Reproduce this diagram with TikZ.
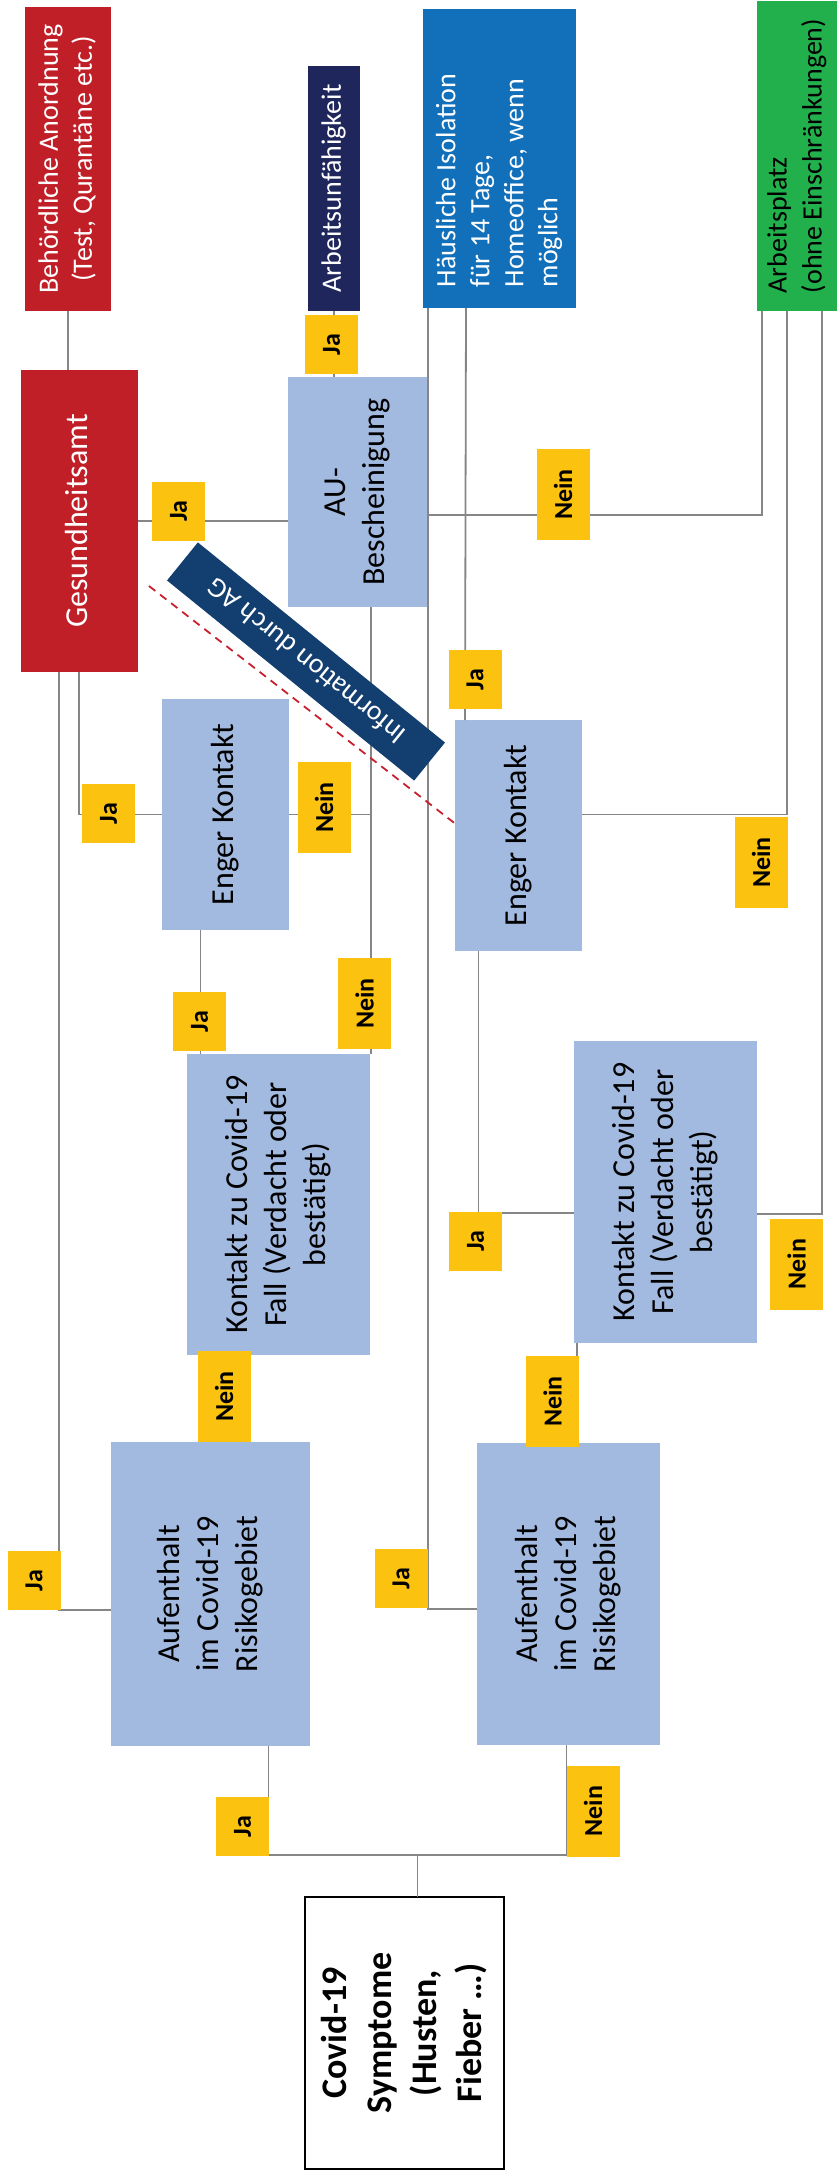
\documentclass[tikz,border=0pt]{standalone}
\usepackage{fontspec}
\setmainfont{Carlito}
\usepackage{graphicx}
\usetikzlibrary{calc}
\definecolor{cRed}{HTML}{C11F27}
\definecolor{cNavy}{HTML}{1F265C}
\definecolor{cBlue}{HTML}{1270BA}
\definecolor{cGreen}{HTML}{21B04B}
\definecolor{cLight}{HTML}{A2B9E0}
\definecolor{cYellow}{HTML}{FCC210}
\definecolor{cBanner}{HTML}{133F70}
\definecolor{cLine}{HTML}{868686}
\definecolor{cDash}{HTML}{C8202F}
\newcommand{\vtext}[2][c]{\rotatebox{90}{\begin{tabular}{@{}#1@{}}#2\end{tabular}}}
\begin{document}
\begin{tikzpicture}[x=1pt,y=-1pt,
  shapebox/.style={rectangle, inner sep=0pt, outer sep=0pt, draw=none},
  lbox/.style={shapebox, fill=cLight, text=black, font=\fontsize{32}{39}\selectfont},
  dbox/.style={shapebox, text=white, font=\fontsize{28}{34}\selectfont},
  yesno/.style={shapebox, fill=cYellow, text=black, minimum width=53pt, font=\bfseries\fontsize{26}{30}\selectfont},
  ja/.style={yesno, minimum height=59pt},
  nein/.style={yesno, minimum height=91pt},
  conn/.style={draw=cLine, line width=1.8pt},
]
\useasboundingbox (0,0) rectangle (837,2179);
% outcome boxes
\node[dbox, fill=cRed, minimum width=86pt, minimum height=304pt] (behoerd) at (68,159)
  {\vtext{Behördliche Anordnung\\(Test, Qurantäne etc.)}};
\node[dbox, fill=cNavy, minimum width=52pt, minimum height=245pt] (arbu) at (334,188.5)
  {\vtext{Arbeitsunfähigkeit}};
\node[dbox, fill=cBlue, minimum width=153pt, minimum height=299pt] (haeusl) at (499.5,158.5)
  {\rotatebox{90}{\begin{tabular}{@{}l@{}}Häusliche Isolation\\für 14 Tage,\\Homeoffice, wenn\\möglich\end{tabular}\hspace{44pt}}};
\node[shapebox, fill=cGreen, text=black, font=\fontsize{28}{35}\selectfont, minimum width=80pt, minimum height=310pt] (arbpl) at (797,156)
  {\vtext[l]{Arbeitsplatz\\(ohne Einschränkungen)}};
\node[dbox, fill=cRed, font=\fontsize{32}{39}\selectfont, minimum width=117pt, minimum height=302pt] (gesund) at (79.5,521)
  {\vtext{Gesundheitsamt}};
% decision boxes
\node[lbox, minimum width=139pt, minimum height=230pt] (aub) at (357.5,492) {\vtext{AU-\\Bescheinigung}};
\node[lbox, minimum width=127pt, minimum height=231pt] (ek1) at (225.5,814.5) {\vtext{Enger Kontakt}};
\node[lbox, minimum width=127pt, minimum height=231pt] (ek2) at (518.5,835.5) {\vtext{Enger Kontakt}};
\node[lbox, minimum width=183pt, minimum height=301pt] (k1) at (278.5,1204.5) {\vtext{Kontakt zu Covid-19\\Fall (Verdacht oder\\bestätigt)}};
\node[lbox, minimum width=183pt, minimum height=302pt] (k2) at (665.5,1192) {\vtext{Kontakt zu Covid-19\\Fall (Verdacht oder\\bestätigt)}};
\node[lbox, minimum width=199pt, minimum height=304pt] (auf1) at (210.5,1594) {\vtext{Aufenthalt\\im Covid-19\\Risikogebiet}};
\node[lbox, minimum width=183pt, minimum height=302pt] (auf2) at (568.5,1594) {\vtext{Aufenthalt\\im Covid-19\\Risikogebiet}};
\node[shapebox, draw=black, line width=2pt, fill=white, font=\bfseries\fontsize{36}{45}\selectfont, minimum width=199pt, minimum height=272pt] (sympt) at (404.5,2033)
  {\vtext{Covid-19\\Symptome\\(Husten,\\Fieber …)}};
% helper coordinates
\coordinate (j1) at ($(k1.north east)+(1,0)$);
\coordinate (t1) at ($(ek1.south)+(-25,0)$);
\coordinate (t2) at ($(k1.south)+(-30,0)$);
\coordinate (t3) at ($(auf2.north)+(8.5,0)$);
\coordinate (symtop) at ($(sympt.north)+(13,0)$);
\coordinate (bus) at ($(sympt.north)+(13,-42)$);
% connectors
\draw[conn] (behoerd.south) -- (behoerd.south |- gesund.north);
\draw[conn] (arbu.south) -- (arbu.south |- aub.north);
\draw[conn] (gesund.east) -- (gesund.east -| aub.west);
\draw[conn] ($(aub.east)+(0,23)$) -| ($(arbpl.south west)+(5,0)$);
\draw[conn] ($(haeusl.south west)+(5,0)$) |- ($(auf2.west)+(0,15)$);
\draw[conn] ($(haeusl.south west)+(43,0)$) -- ($(ek2.north west)+(10,0)$);
\draw[conn] ($(gesund.south west)+(38,0)$) |- ($(auf1.west)+(0,16)$);
\draw[conn] ($(gesund.south west)+(58,0)$) |- (ek1.west);
\draw[conn] (aub.south -| j1) -- (j1);
\draw[conn] (ek1.east) -- (ek1.east -| j1);
\draw[conn] (t1) -- (t1 |- k1.north);
\draw[conn] (t2) -- (t2 |- auf1.north);
\draw[conn] ($(auf1.south)+(58,0)$) |- (bus) -| ($(auf2.south)+(-2,0)$);
\draw[conn] (symtop) -- (bus);
\draw[conn] (t3) -- (t3 |- k2.south);
\draw[conn] ($(k2.west)+(0,21)$) -| ($(ek2.south)+(-40,0)$);
\draw[conn] ($(k2.east)+(0,22)$) -| ($(arbpl.south east)+(-15,0)$);
\draw[conn] ($(ek2.east)+(0,-21)$) -| ($(arbpl.south west)+(30,0)$);
\draw[cDash, line width=1.8pt, dash pattern=on 8pt off 6pt] ($(gesund.east)+(11,65)$) -- ($(ek2.west)+(0,-12)$);
% banner
\node[shapebox, fill=cBanner, text=white, font=\fontsize{28}{34}\selectfont, minimum width=318pt, minimum height=49pt, rotate=141] (info) at (306,661.5) {Information durch AG};
% yes/no labels
\node[ja] (ja1) at (331.5,344.5) {\rotatebox{90}{Ja}};
\node[ja] (ja2) at (178.5,511) {\rotatebox{90}{Ja}};
\node[nein] (ne1) at (563,494.5) {\rotatebox{90}{Nein}};
\node[ja] (ja3) at (475,679.5) {\rotatebox{90}{Ja}};
\node[ja] (ja4) at (108.5,813.5) {\rotatebox{90}{Ja}};
\node[nein] (ne2) at (324,807.5) {\rotatebox{90}{Nein}};
\node[nein] (ne3) at (761,862.5) {\rotatebox{90}{Nein}};
\node[nein] (ne4) at (364.5,1003.5) {\rotatebox{90}{Nein}};
\node[ja] (ja5) at (199.5,1021.5) {\rotatebox{90}{Ja}};
\node[ja] (ja6) at (475.5,1241) {\rotatebox{90}{Ja}};
\node[nein] (ne5) at (796.5,1264) {\rotatebox{90}{Nein}};
\node[nein] (ne6) at (224,1396.5) {\rotatebox{90}{Nein}};
\node[nein] (ne7) at (552.5,1401.5) {\rotatebox{90}{Nein}};
\node[ja] (ja7) at (34,1580.5) {\rotatebox{90}{Ja}};
\node[ja] (ja8) at (401,1578.5) {\rotatebox{90}{Ja}};
\node[ja] (ja9) at (242.5,1826.5) {\rotatebox{90}{Ja}};
\node[nein] (ne8) at (593,1811) {\rotatebox{90}{Nein}};
\end{tikzpicture}
\end{document}
